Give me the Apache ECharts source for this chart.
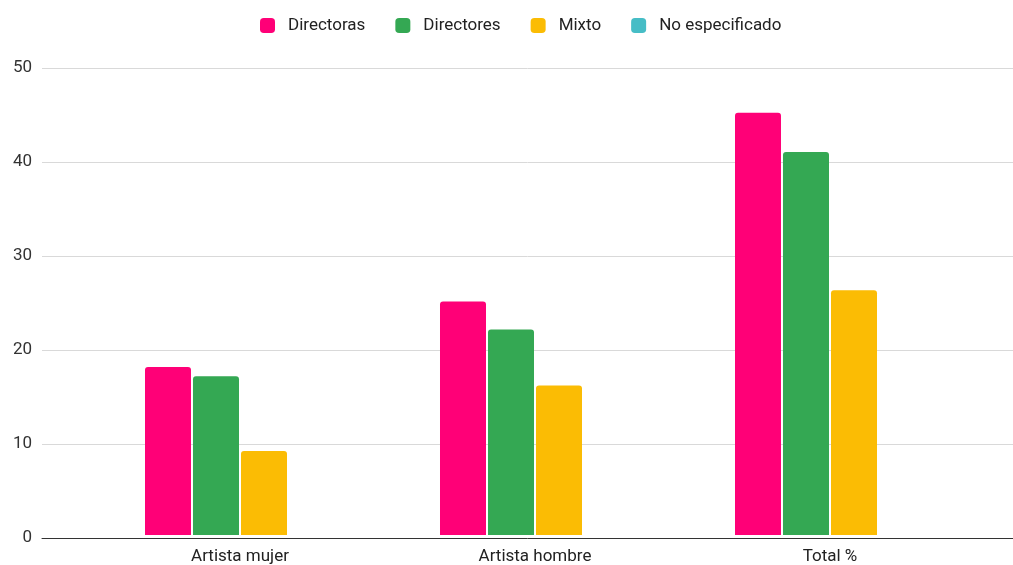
<!DOCTYPE html>
<html>
<head>
<meta charset="utf-8">
<script src="https://cdn.jsdelivr.net/npm/echarts@6/dist/echarts.min.js"></script>
<style>html,body{margin:0;padding:0;background:#fff}#c{width:1013px;height:565px}</style>
</head>
<body>
<div id="c"></div>
<script>
const categories = ['Artista mujer', 'Artista hombre', 'Total %'];
const directoras = [18, 25, 45.2];
const directores = [17, 22, 41];
const mixto = [9, 16, 26.2];
const noEspecificado = [0, 0, 0];
const seriesNames = ['Directoras', 'Directores', 'Mixto', 'No especificado'];
const colors = ['#FF0077', '#34A853', '#FBBC04', '#46BDC6'];
const yTicks = { min: 0, max: 50, interval: 10 };

const chart = echarts.init(document.getElementById('c'));
const font = 'Roboto, Arial, sans-serif';
const values = [directoras, directores, mixto, noEspecificado];

chart.setOption({
  animation: false,
  color: colors,
  legend: {
    top: 12,
    left: 255,
    itemWidth: 15,
    itemHeight: 15,
    itemGap: 30,
    icon: 'roundRect',
    textStyle: { fontFamily: font, fontSize: 17, color: '#222', padding: [0, 0, 0, 8] },
    data: seriesNames
  },
  grid: [
    { left: 42, right: 0, top: 68, bottom: 27 },
    { left: 92.5, right: 35.5, top: 68, bottom: 27 }
  ],
  xAxis: [
    { type: 'value', gridIndex: 0, min: 0, max: 1, show: true,
      axisLine: { show: true, onZero: false, lineStyle: { color: '#333', width: 1 } },
      axisTick: { show: false }, axisLabel: { show: false }, splitLine: { show: false } },
    { type: 'category', gridIndex: 1, data: categories,
      axisLine: { show: false }, axisTick: { show: false },
      axisLabel: { fontFamily: font, fontSize: 17, color: '#222', margin: 13 } }
  ],
  yAxis: [
    { type: 'value', gridIndex: 0, min: yTicks.min, max: yTicks.max, interval: yTicks.interval,
      axisLine: { show: false }, axisTick: { show: false },
      axisLabel: { fontFamily: font, fontSize: 17, color: '#333', margin: 10 },
      splitLine: { lineStyle: { color: '#d9d9d9', width: 1 } } },
    { type: 'value', gridIndex: 1, min: yTicks.min, max: yTicks.max, interval: yTicks.interval, show: false }
  ],
  series: seriesNames.map((n, i) => ({
    name: n,
    type: 'bar',
    xAxisIndex: 1,
    yAxisIndex: 1,
    data: values[i],
    barWidth: 46,
    barGap: '4.35%',
    itemStyle: { color: colors[i], borderRadius: [3, 3, 0, 0] }
  }))
});
</script>
</body>
</html>
